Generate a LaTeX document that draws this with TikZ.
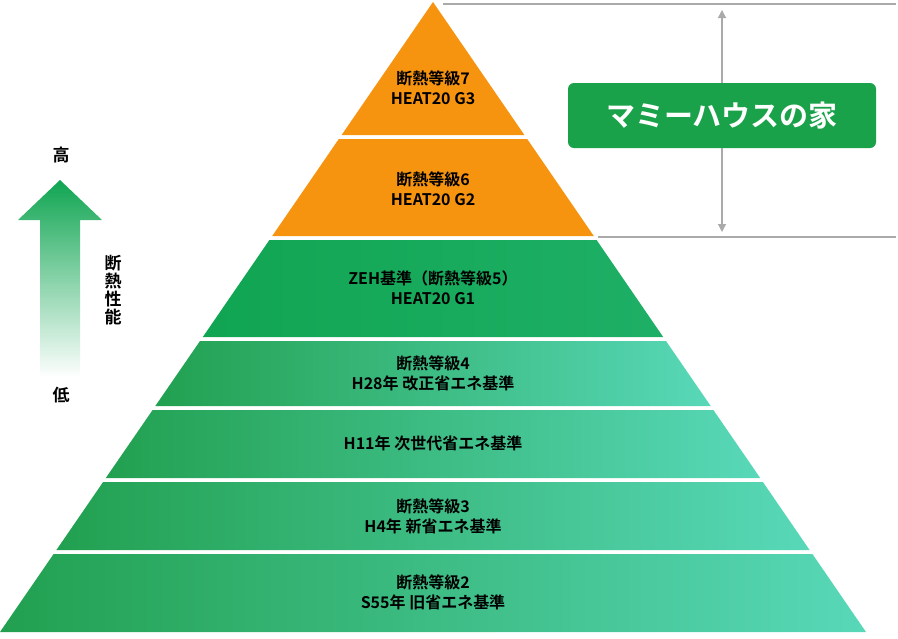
\documentclass[tikz,border=0pt]{standalone}
\usepackage{fontspec}
\setmainfont{Noto Sans CJK JP}[BoldFont={* Bold}]
\usetikzlibrary{arrows.meta}
\definecolor{org}{HTML}{F7940F}
\definecolor{gl}{HTML}{22A050}
\definecolor{gr}{HTML}{58D8B8}
\definecolor{gd}{HTML}{10A552}
\definecolor{gbox}{HTML}{1AA24A}
\definecolor{gline}{HTML}{AAAAAA}
\tikzset{
  lay/.style={draw=none},
  ltxt/.style={font=\bfseries\fontsize{16}{20}\selectfont, align=center, text=black},
  side/.style={font=\bfseries\fontsize{17}{20}\selectfont, text=black}
}
\begin{document}
\begin{tikzpicture}[x=1pt,y=-1pt]
\useasboundingbox (0,0) rectangle (898,638);
% layers
\fill[org] (433,2) -- (524.4,135) -- (341.6,135) -- cycle;
\fill[org] (338.8,139) -- (527.2,139) -- (593.8,236) -- (272.2,236) -- cycle;
\shade[left color=gd, right color=gd!80!gr] (269.4,240) -- (596.6,240) -- (663.2,337) -- (202.8,337) -- cycle;
\shade[left color=gl, right color=gr] (200,341) -- (666,341) -- (710.7,406) -- (155.3,406) -- cycle;
\shade[left color=gl, right color=gr] (152.6,410) -- (713.4,410) -- (760.2,478) -- (105.8,478) -- cycle;
\shade[left color=gl, right color=gr] (103.1,482) -- (762.9,482) -- (809.6,550) -- (56.4,550) -- cycle;
\shade[left color=gl, right color=gr] (53.6,554) -- (812.4,554) -- (866,632) -- (0,632) -- cycle;
% texts
\node[ltxt] (t7) at (433,88) {断熱等級7\\HEAT20 G3};
\node[ltxt] (t6) at (433,189) {断熱等級6\\HEAT20 G2};
\node[ltxt] (t5) at (433,288) {ZEH基準（断熱等級5）\\HEAT20 G1};
\node[ltxt] (t4) at (433,373) {断熱等級4\\H28年 改正省エネ基準};
\node[ltxt] (t3a) at (433,443) {H11年 次世代省エネ基準};
\node[ltxt] (t3) at (433,516) {断熱等級3\\H4年 新省エネ基準};
\node[ltxt] (t2) at (433,592) {断熱等級2\\S55年 旧省エネ基準};
% bracket
\coordinate (ta) at (443,4); \coordinate (tb) at (896,4);
\coordinate (ba) at (598,237); \coordinate (bb) at (896,237);
\draw[gline, line width=1.5pt] (ta) -- (tb);
\draw[gline, line width=1.5pt] (ba) -- (bb);
\node[fill=gbox, rounded corners=6pt, minimum width=308pt, minimum height=65pt, text=white, font=\bfseries\fontsize{29}{32}\selectfont] (box) at (722,115.5) {マミーハウスの家};
\coordinate (at) at (722,10); \coordinate (ab) at (722,232);
\draw[gline, line width=1.2pt, -{Triangle[length=8pt,width=8pt]}] (box.north -| at) -- (at);
\draw[gline, line width=1.2pt, -{Triangle[length=8pt,width=8pt]}] (box.south -| ab) -- (ab);
% left arrow
\shade[top color=gd, bottom color=white] (60,180) -- (102,220) -- (80,220) -- (80,378) -- (40,378) -- (40,220) -- (18,220) -- cycle;
\node[side] (hi) at (61,155) {高};
\node[side] (lo) at (61,395) {低};
\node[side, align=center, inner sep=0pt] (perf) at (113,290) {断\\[-2pt]熱\\[-2pt]性\\[-2pt]能};
\end{tikzpicture}
\end{document}
